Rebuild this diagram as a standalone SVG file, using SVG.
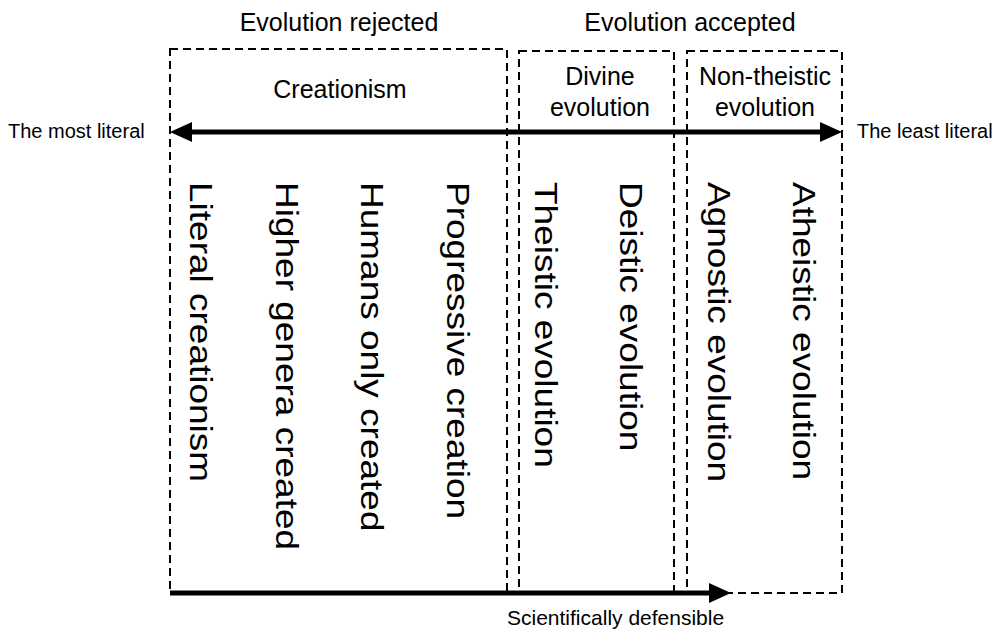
<svg xmlns="http://www.w3.org/2000/svg" width="1000" height="632" viewBox="0 0 1000 632">
<style>
text{font-family:"Liberation Sans",Arial,sans-serif;fill:#000}
.h{font-size:25px;text-anchor:middle}
.s{font-size:20px}
.sd{font-size:21px}
.v{font-size:37px}
.box{fill:none;stroke:#000;stroke-width:2;stroke-dasharray:8 5}
.ax{stroke:#000;stroke-width:5;fill:none}
.hd{fill:#000}
</style>
<rect width="1000" height="632" fill="#fff"/>
<g id="headers">
<text class="h" x="339" y="31">Evolution rejected</text>
<text class="h" x="690" y="31">Evolution accepted</text>
</g>
<g id="creationism">
<rect class="box" x="170" y="49" width="337" height="544"/>
<text class="h" x="340" y="98">Creationism</text>
<text class="v" transform="translate(190,182) rotate(90) scale(1,0.84)">Literal creationism</text>
<text class="v" transform="translate(276,182) rotate(90) scale(1,0.84)">Higher genera created</text>
<text class="v" transform="translate(361,182) rotate(90) scale(1,0.84)">Humans only created</text>
<text class="v" transform="translate(447,182) rotate(90) scale(1,0.84)">Progressive creation</text>
</g>
<g id="divine">
<rect class="box" x="519" y="51" width="155" height="542"/>
<text class="h" x="600" y="85">Divine</text>
<text class="h" x="600" y="116">evolution</text>
<text class="v" transform="translate(535,182) rotate(90) scale(1,0.84)">Theistic evolution</text>
<text class="v" transform="translate(620,182) rotate(90) scale(1,0.84)">Deistic evolution</text>
</g>
<g id="nontheistic">
<rect class="box" x="687" y="51" width="155" height="542"/>
<text class="h" x="765" y="85">Non-theistic</text>
<text class="h" x="765" y="116">evolution</text>
<text class="v" transform="translate(708,182) rotate(90) scale(1,0.84)">Agnostic evolution</text>
<text class="v" transform="translate(793,182) rotate(90) scale(1,0.84)">Atheistic evolution</text>
</g>
<g id="connectors">
<line class="ax" x1="188" y1="132" x2="824" y2="132"/>
<polygon class="hd" points="170,132 192,122 192,142"/>
<polygon class="hd" points="842,132 820,122 820,142"/>
<line class="ax" x1="170" y1="593" x2="712" y2="593"/>
<polygon class="hd" points="731,593 709,583 709,603"/>
</g>
<g id="labels">
<text class="s" x="8" y="138">The most literal</text>
<text class="s" x="857" y="138">The least literal</text>
<text class="sd" x="507" y="625">Scientifically defensible</text>
</g>
</svg>
